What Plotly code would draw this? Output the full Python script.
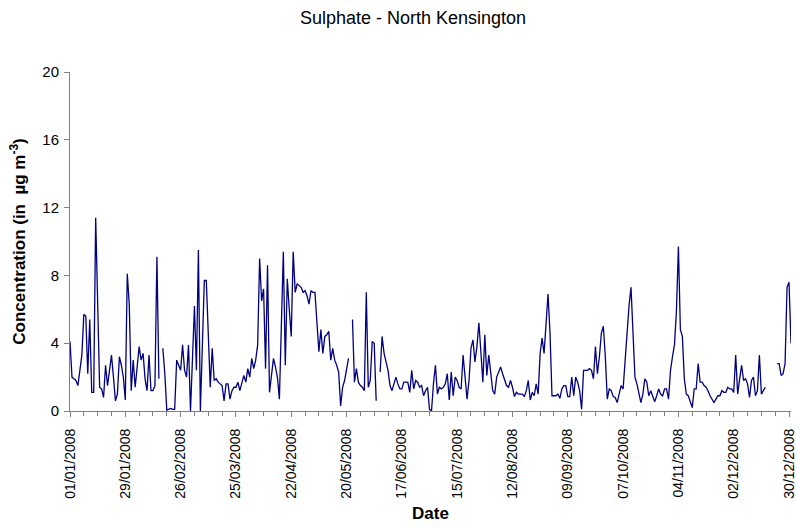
import pandas as pd
import plotly.graph_objects as go

# Daily sulphate concentrations (µg m-3), North Kensington, 2008 (None = no measurement)
jan = [4.1, 2.0, 1.9, 1.8, 1.5, 2.4, 3.3, 5.7, 5.6, 2.2, 5.4, 1.1, 1.1, 11.4, 5.5, 1.4,
       1.3, 0.8, 2.7, 1.5, 2.4, 3.3, 2.0, 0.6, 1.0, 3.2, 2.7, 2.0, 0.65, 8.1, 6.3]
feb = [1.2, 3.0, 1.4, 2.6, 3.8, 3.0, 3.4, 1.9, 1.2, 3.3, 1.2, 1.2, 1.5, 9.1, 1.9, None,
       3.7, 2.2, 0.05, 0.1, 0.15, 0.1, 0.1, 3.0, 2.7, 2.4, 3.9, 2.4, 2.0]
mar = [3.9, 0.0, 3.0, 6.2, 2.4, 9.5, 0.0, 3.8, 7.7, 7.7, 4.5, 1.4, 3.7, 1.8, 1.9, 1.7,
       1.6, 1.5, 0.6, 1.6, 1.6, 0.7, 1.2, 1.4, 1.4, 1.7, 1.2, 1.6, 2.1, 1.7, 2.5]
apr = [2.0, 3.1, 2.5, 3.0, 3.9, 9.0, 6.5, 7.2, 2.5, 8.6, 1.1, 2.0, 3.1, 2.6, 2.0, 0.7,
       5.0, 9.4, 2.7, 7.8, 6.0, 4.4, 9.4, 7.0, 7.5, 7.4, 7.3, 7.0, 7.1, 6.8]
may = [6.3, 7.1, 7.0, 7.0, 5.2, 3.5, 4.8, 3.4, 4.4, 4.5, 4.7, 3.0, 3.7, 3.0, 2.7, 2.3,
       0.3, 1.4, 1.8, 2.5, 3.1, None, 5.4, 1.7, 2.5, 1.7, 1.5, 1.4, 1.2, 7.0, 1.4]
jun = [1.8, 4.1, 4.0, 0.6, None, 2.3, 4.4, 3.4, 2.9, 2.4, 1.5, 1.2, 1.6, 2.0, 1.6, 1.3,
       1.3, 1.7, 1.7, 1.7, 1.1, 2.4, 1.3, 1.8, 1.7, 1.4, 1.5, 0.9, 1.2, 1.4]
jul = [0.1, 0.0, 1.6, 2.7, 1.0, 1.4, 1.3, 1.4, 1.6, 2.2, 0.65, 2.3, 0.9, 2.0, 1.8, 1.4,
       1.3, 3.3, 2.0, 0.7, 1.8, 3.7, 4.2, 2.9, 3.8, 5.2, 3.5, 1.7, 4.5, 2.1, 3.3]
aug = [2.3, 1.2, 1.0, 2.0, 2.3, 2.6, 2.2, 1.9, 1.5, 1.4, 1.8, 1.4, 0.85, 1.1, 1.0, 1.0,
       1.0, 0.85, 1.2, 1.8, 0.65, 1.1, 0.9, 1.6, 1.0, 3.4, 4.3, 3.4, 5.2, 6.9, 4.6]
sep = [0.9, 0.9, 0.9, 1.0, 0.75, 1.3, 1.5, 1.5, 0.85, 0.85, 2.0, 0.9, 2.0, 1.7, 1.2, 0.1,
       2.4, 2.4, 2.4, 2.5, 2.4, 1.9, 3.8, 2.2, 3.2, 4.6, 5.0, 3.2, 0.7, 1.3]
oct_ = [1.2, 0.85, 0.8, 0.5, 1.0, 1.5, 1.3, 3.0, 5.0, 6.2, 7.3, 5.0, 2.0, 1.6, 1.0, 0.5,
        1.0, 1.9, 1.7, 0.9, 1.2, 0.8, 0.55, 0.9, 1.3, 1.0, 0.9, 1.3, 1.3, 0.7, 2.4]
nov = [3.2, 3.9, 5.9, 9.7, 4.8, 4.4, 1.9, 1.0, 0.9, 0.6, 0.2, 1.3, 1.3, 2.8, 1.7, 1.7,
       1.5, 1.4, 1.2, 0.9, 0.7, 0.5, 0.7, 0.9, 0.9, 1.2, 1.1, 1.1, 1.4, 1.3]
dec = [1.3, 1.1, 3.3, 1.0, 1.9, 2.7, 1.8, 1.9, 1.6, 0.8, 1.8, 2.0, 0.9, 1.2, 3.3, 1.0,
       1.2, 1.4, None, None, None, None, None, 2.8, 2.8, 2.1, 2.2, 2.8, 7.3, 7.6, 4.0]

values = jan + feb + mar + apr + may + jun + jul + aug + sep + oct_ + nov + dec
dates = pd.date_range("2008-01-01", "2008-12-31", freq="D")

y_ticks = [0, 4, 8, 12, 16, 20]

DAY_MS = 86400000
FONT = "Liberation Sans, Arial, sans-serif"
AXIS_GREY = "#808080"

fig = go.Figure(
    go.Scatter(
        x=dates,
        y=values,
        mode="lines",
        line=dict(color="#000080", width=1.3),
        connectgaps=False,
        hoverinfo="x+y",
    )
)

fig.update_layout(
    width=796,
    height=527,
    paper_bgcolor="white",
    plot_bgcolor="white",
    margin=dict(l=70, r=5, t=72, b=116),
    showlegend=False,
    font=dict(family=FONT, color="#000000"),
    title=dict(
        text="Sulphate - North Kensington",
        x=413 / 796,
        xanchor="center",
        y=1 - 18 / 527,
        yanchor="middle",
        font=dict(size=18, family=FONT, color="#000000"),
    ),
)

fig.update_xaxes(
    range=["2008-01-01", "2008-12-31"],
    automargin=False,
    tick0="2008-01-01",
    dtick=28 * DAY_MS,
    tickformat="%d/%m/%Y",
    tickangle=-90,
    tickfont=dict(size=14, family=FONT, color="#000000"),
    ticklabeloverflow="allow",
    ticklabelstandoff=6,
    ticks="outside",
    ticklen=5,
    tickcolor=AXIS_GREY,
    minor=dict(dtick=7 * DAY_MS, tick0="2008-01-01", ticks="outside",
               ticklen=4, tickcolor=AXIS_GREY),
    showline=True,
    linecolor=AXIS_GREY,
    linewidth=1,
    showgrid=False,
    zeroline=False,
    title=dict(text="<b>Date</b>", font=dict(size=17, family=FONT), standoff=9),
)

fig.update_yaxes(
    range=[0, 20],
    automargin=False,
    tickvals=y_ticks,
    tickfont=dict(size=15, family=FONT, color="#000000"),
    ticklabelstandoff=2,
    ticks="outside",
    ticklen=5,
    tickcolor=AXIS_GREY,
    showline=True,
    linecolor=AXIS_GREY,
    linewidth=1,
    showgrid=False,
    zeroline=False,
    title=dict(text="<b>Concentration (in  µg m<sup>-3</sup>)</b>",
               font=dict(size=17, family=FONT), standoff=12),
)

fig.write_html("out.html")
